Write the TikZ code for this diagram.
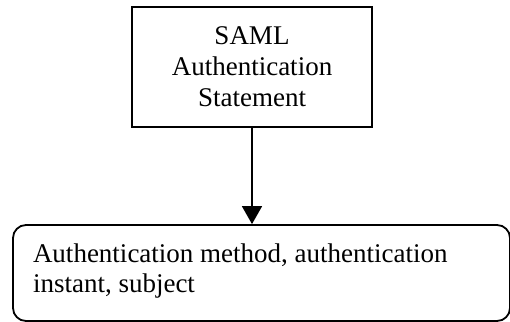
\documentclass[tikz,border=0pt]{standalone}
\usepackage{fontspec}
\setmainfont{Liberation Serif}
\usetikzlibrary{arrows.meta}
\tikzset{
  stmtbox/.style={draw,line width=0.8pt,minimum width=120pt,minimum height=60pt,
    align=center,inner sep=0pt,font=\fontsize{13.5pt}{15.5pt}\selectfont},
  infobox/.style={draw,line width=0.9pt,rounded corners=6.5pt,inner xsep=10pt,
    inner ysep=9.5pt,font=\fontsize{13.5pt}{15pt}\selectfont},
}
\begin{document}
\begin{tikzpicture}[x=0.5pt,y=-0.5pt]
\useasboundingbox (0,0) rectangle (510,322);
\node[stmtbox] (stmt) at (252,67) {SAML\\Authentication\\Statement};
\node[infobox] (info) at (261.5,273)
  {\parbox[c][29pt][t]{228.5pt}{\raggedright Authentication method, authentication instant, subject}};
\draw[line width=0.8pt,-{Triangle[length=9pt,width=10pt]}] (stmt.south) -- (stmt.south |- info.north);
\end{tikzpicture}
\end{document}
